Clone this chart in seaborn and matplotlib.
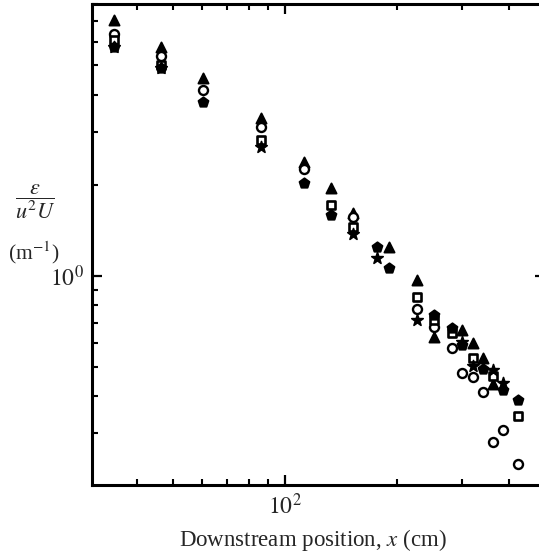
import matplotlib
matplotlib.use("Agg")
import matplotlib.pyplot as plt
import seaborn as sns
import numpy as np
import pandas as pd
from matplotlib.ticker import LogLocator, NullFormatter, FixedLocator, FixedFormatter

# ---- data ----
tri_x = [34.7, 46.4, 60.2, 86.2, 112.5, 133, 152.3, 190.4, 226.4, 251.5, 299.1, 320.2, 340.7, 362.4]
tri_y = [7.09, 5.76, 4.55, 3.35, 2.39, 1.96, 1.62, 1.248, 0.970, 0.627, 0.662, 0.599, 0.534, 0.438]

circ_x = [34.7, 46.4, 60.2, 86.2, 112.5, 152.3, 226.4, 251.5, 281.1, 299.1, 320.2, 340.7, 362.4, 385.5, 423]
circ_y = [6.37, 5.38, 4.15, 3.13, 2.27, 1.57, 0.777, 0.677, 0.576, 0.476, 0.462, 0.412, 0.281, 0.308, 0.237]

sq_x = [34.7, 46.4, 86.2, 133, 152.3, 226.4, 251.5, 281.1, 320.2, 362.4, 423]
sq_y = [6.08, 5.02, 2.83, 1.72, 1.455, 0.852, 0.714, 0.647, 0.534, 0.465, 0.343]

star_x = [34.7, 46.4, 86.2, 152.3, 176.7, 226.4, 299.1, 320.2, 362.4, 385.5]
star_y = [5.76, 4.91, 2.68, 1.379, 1.148, 0.714, 0.604, 0.502, 0.487, 0.441]

pent_x = [34.7, 46.4, 60.2, 112.5, 133, 176.7, 190.4, 251.5, 281.1, 299.1, 340.7, 385.5, 423]
pent_y = [5.76, 4.91, 3.79, 2.04, 1.595, 1.248, 1.063, 0.742, 0.672, 0.590, 0.491, 0.418, 0.387]

x_ticks = [100]
x_tick_labels = [r"$10^2$"]
y_ticks = [1]
y_tick_labels = [r"$10^0$"]

# ---- styling ----
sns.set_theme(style="ticks")
plt.rcParams["font.family"] = ["Liberation Serif", "DejaVu Serif"]
plt.rcParams["mathtext.fontset"] = "stix"

W, H = 539, 553
fig = plt.figure(figsize=(W / 100, H / 100), dpi=100)
left, right, top, bottom = 92, 545, 4, 485
ax = fig.add_axes([left / W, (H - bottom) / H, (right - left) / W, (bottom - top) / H])

series = [
    (tri_x, tri_y, "^", "black", 52, 1.4),
    (circ_x, circ_y, "o", "white", 42, 1.7),
    (sq_x, sq_y, "s", "white", 30, 1.9),
    (star_x, star_y, "*", "black", 75, 1.2),
    (pent_x, pent_y, "p", "black", 55, 1.4),
]
for xs, ys, m, fc, s, lw in series:
    df = pd.DataFrame({"x": xs, "y": ys})
    sns.scatterplot(data=df, x="x", y="y", marker=m, s=s, facecolor=fc,
                    edgecolor="black", linewidth=lw, ax=ax, zorder=3)

ax.set_xscale("log")
ax.set_yscale("log")
ax.set_xlim(30.3, 500)
ax.set_ylim(0.202, 8.0)

ax.xaxis.set_major_locator(FixedLocator(x_ticks))
ax.xaxis.set_major_formatter(FixedFormatter(x_tick_labels))
ax.yaxis.set_major_locator(FixedLocator(y_ticks))
ax.yaxis.set_major_formatter(FixedFormatter(y_tick_labels))
ax.xaxis.set_minor_locator(LogLocator(base=10, subs=np.arange(2, 10)))
ax.yaxis.set_minor_locator(LogLocator(base=10, subs=np.arange(2, 10)))
ax.xaxis.set_minor_formatter(NullFormatter())
ax.yaxis.set_minor_formatter(NullFormatter())

for sp in ax.spines.values():
    sp.set_linewidth(2.2)
    sp.set_color("black")

ax.tick_params(which="both", direction="in", top=True, right=True, color="black")
ax.tick_params(which="major", length=7, width=1.6, labelsize=17, pad=6)
ax.tick_params(which="minor", length=4.5, width=1.5)

ax.set_xlabel("")
ax.set_ylabel("")

fig.text(313 / W, 1 - 540 / H, "Downstream position, $x$ (cm)", fontsize=16.5,
         ha="center", va="center")
fig.text(35 / W, 1 - 202 / H, r"$\dfrac{\varepsilon}{u^{2}U}$", fontsize=16,
         ha="center", va="center")
fig.text(34 / W, 1 - 253 / H, r"(m$^{-1}$)", fontsize=15.5, ha="center", va="center")

fig.savefig("out.png", dpi=100)
